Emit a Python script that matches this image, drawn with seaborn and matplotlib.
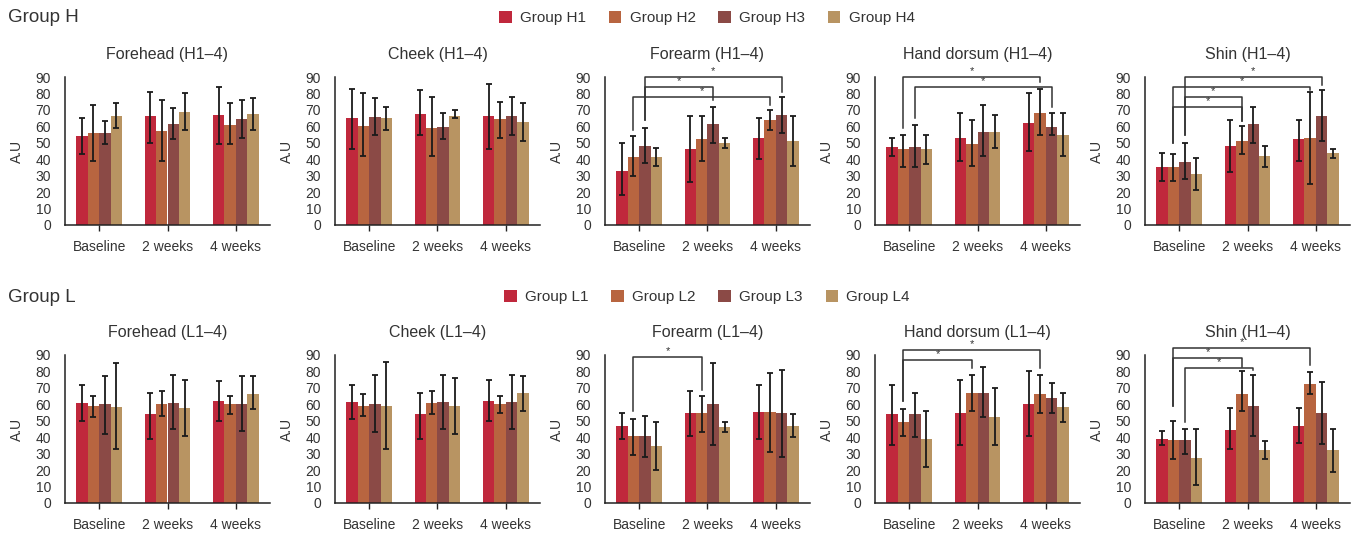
import numpy as np
import pandas as pd
import matplotlib as mpl
mpl.use('Agg')
import matplotlib.pyplot as plt
from matplotlib.patches import Patch
import seaborn as sns

# categories
times = ['Baseline', '2 weeks', '4 weeks']
labels_h = ['Group H1', 'Group H2', 'Group H3', 'Group H4']
labels_l = ['Group L1', 'Group L2', 'Group L3', 'Group L4']
colors = ['#C0283C', '#B86540', '#8B4A46', '#B89462']

# values: one sub-list per group, one value per time point
forehead_h_mean = [[54, 66, 67], [56, 57, 61], [56, 61.5, 64.5], [66, 69, 67.5]]
forehead_h_low = [[43, 50, 49], [39, 39, 49], [49, 52, 53], [59, 58, 58]]
forehead_h_high = [[65, 81, 84], [73, 76, 74], [63, 71, 76], [74, 80, 77]]

cheek_h_mean = [[65, 67.5, 66.5], [60, 59, 64.5], [65.5, 59.5, 66.5], [65, 66.5, 62.5]]
cheek_h_low = [[46, 55, 46], [42, 42, 53], [55, 52, 55], [58, 65, 51]]
cheek_h_high = [[83, 82, 86], [80, 78, 75], [77, 68, 78], [72, 70, 74]]

forearm_h_mean = [[33, 46, 53], [41.5, 52.5, 64], [48, 61.5, 67], [41.5, 50, 51]]
forearm_h_low = [[18, 26, 40], [30, 39, 58], [38, 50, 56], [36, 47, 36]]
forearm_h_high = [[50, 66, 65], [54, 66, 70], [59, 72, 78], [47, 53, 66]]

hand_h_mean = [[47.5, 53, 62], [46, 49.5, 68], [47.5, 56.5, 59.5], [46.5, 56.5, 55]]
hand_h_low = [[42, 39, 45], [35, 36, 55], [35, 42, 55], [37, 47, 42]]
hand_h_high = [[53, 68, 80], [55, 64, 83], [61, 73, 68], [55, 67, 68]]

shin_h_mean = [[35.5, 48, 52], [35, 51, 53], [38.5, 61.5, 66], [31, 42, 43.5]]
shin_h_low = [[27, 32, 39], [27, 43, 25], [28, 50, 51], [21, 35, 41]]
shin_h_high = [[44, 64, 64], [43, 60, 81], [50, 72, 82], [41, 48, 46]]

forehead_l_mean = [[61, 54, 62], [59, 60.5, 60], [60, 61, 60.5], [58.5, 58, 66.5]]
forehead_l_low = [[50, 39, 50], [52, 53, 54], [42, 45, 44], [33, 41, 57]]
forehead_l_high = [[72, 67, 74], [65, 68, 65], [77, 78, 77], [85, 75, 77]]

cheek_l_mean = [[61.5, 54, 62], [59, 61, 60.5], [60.5, 61.5, 61.5], [59, 59, 67]]
cheek_l_low = [[51, 39, 50], [53, 54, 55], [43, 45, 45], [33, 42, 56]]
cheek_l_high = [[72, 67, 75], [66, 68, 65], [78, 78, 78], [86, 76, 77]]

forearm_l_mean = [[47, 55, 55.5], [40.5, 54.5, 55.5], [40.5, 60, 54.5], [34.5, 46, 47]]
forearm_l_low = [[39, 41, 39], [29, 43, 31], [28, 35, 28], [20, 43, 40]]
forearm_l_high = [[55, 68, 72], [51, 65, 79], [53, 85, 81], [49, 49, 54]]

hand_l_mean = [[54, 55, 60.5], [49, 67, 66.5], [54, 67, 64], [39, 52.5, 58.5]]
hand_l_low = [[35, 35, 41], [41, 56, 55], [40, 52, 55], [22, 35, 49]]
hand_l_high = [[72, 75, 80], [57, 78, 78], [67, 83, 73], [56, 70, 67]]

shin_l_mean = [[39, 44.5, 47], [38.5, 66, 72.5], [38.5, 59, 55], [27.5, 32.5, 32.5]]
shin_l_low = [[35, 33, 36.5], [27, 56, 66], [30, 40.5, 36], [11, 27, 19]]
shin_l_high = [[43.5, 57.5, 57.5], [50, 80, 79.5], [45, 78, 73.5], [45, 38, 45]]

# significance brackets: (time a, group a, time b, group b, line level, end a, end b)
forearm_h_sig = [(0, 1, 2, 1, 78, 58, 73), (0, 2, 1, 2, 84, 64, 76), (0, 2, 2, 2, 90, 64, 81)]
hand_h_sig = [(0, 1, 2, 1, 90, 59, 87), (0, 2, 2, 2, 84, 65, 72)]
shin_h_sig = [(0, 1, 1, 1, 72, 50, 63), (0, 2, 1, 1, 78, 55, 63), (0, 1, 2, 1, 84, 50, 82), (0, 2, 2, 2, 90, 55, 85)]
forearm_l_sig = [(0, 1, 1, 1, 89, 56, 69)]
hand_l_sig = [(0, 1, 1, 1, 87, 62, 82), (0, 1, 2, 1, 93, 62, 82)]
shin_l_sig = [(0, 2, 1, 2, 82, 49, 81), (0, 1, 1, 1, 88, 59, 82.5), (0, 1, 2, 1, 94, 59, 84)]

plt.rcParams['font.family'] = ['Liberation Sans', 'DejaVu Sans']
plt.rcParams['text.color'] = '#333333'
plt.rcParams['axes.labelcolor'] = '#333333'
plt.rcParams['xtick.color'] = '#222222'
plt.rcParams['ytick.color'] = '#222222'
plt.rcParams['xtick.labelcolor'] = '#333333'
plt.rcParams['ytick.labelcolor'] = '#333333'

fig = plt.figure(figsize=(13.56, 5.35), dpi=100)
W, H = 1356, 535


def draw_panel(ax, title, labels, mean, low, high, sig):
    rows = []
    for g in range(4):
        for t in range(3):
            rows.append({'time': times[t], 'group': labels[g], 'value': mean[g][t]})
    df = pd.DataFrame(rows)
    sns.barplot(data=df, x='time', y='value', hue='group', order=times, hue_order=labels,
                palette=colors, saturation=1, width=0.67, errorbar=None, legend=False, ax=ax)
    bar_conts = list(ax.containers)
    xs = np.zeros((4, 3))
    for g, cont in enumerate(bar_conts):
        for t, bar in enumerate(cont):
            xc = bar.get_x() + bar.get_width() / 2
            xs[g, t] = xc
            m = mean[g][t]
            ax.errorbar(xc, m, yerr=[[m - low[g][t]], [high[g][t] - m]], fmt='none',
                        ecolor='#1a1a1a', elinewidth=1.3, capsize=2.5, capthick=1.3)
    for ta, ga, tb, gb, lvl, ya, yb in sig:
        xa, xb = xs[ga, ta], xs[gb, tb]
        ax.plot([xa, xa, xb, xb], [ya, lvl, lvl, yb], color='#333333', lw=1.1, clip_on=False)
        ax.text((xa + xb) / 2, lvl + 0.6, '*', ha='center', va='bottom', fontsize=8)
    ax.set_xlim(-0.5, 2.5)
    ax.set_ylim(0, 90)
    ax.set_yticks(range(0, 91, 10))
    ax.set_title(title, fontsize=11.5, pad=13)
    ax.set_xlabel('')
    ax.set_ylabel('A.U', fontsize=10, labelpad=8)
    ax.tick_params(axis='y', length=0, pad=10, labelsize=10)
    ax.tick_params(axis='x', length=4, width=1, pad=7, labelsize=10)
    for s in ['top', 'right']:
        ax.spines[s].set_visible(False)
    for s in ['left', 'bottom']:
        ax.spines[s].set_color('#222222')
        ax.spines[s].set_linewidth(1.1)


lefts = [65, 335, 605, 875, 1145]
top_row = [
    ('Forehead (H1\u20134)', forehead_h_mean, forehead_h_low, forehead_h_high, []),
    ('Cheek (H1\u20134)', cheek_h_mean, cheek_h_low, cheek_h_high, []),
    ('Forearm (H1\u20134)', forearm_h_mean, forearm_h_low, forearm_h_high, forearm_h_sig),
    ('Hand dorsum (H1\u20134)', hand_h_mean, hand_h_low, hand_h_high, hand_h_sig),
    ('Shin (H1\u20134)', shin_h_mean, shin_h_low, shin_h_high, shin_h_sig),
]
bottom_row = [
    ('Forehead (L1\u20134)', forehead_l_mean, forehead_l_low, forehead_l_high, []),
    ('Cheek (L1\u20134)', cheek_l_mean, cheek_l_low, cheek_l_high, []),
    ('Forearm (L1\u20134)', forearm_l_mean, forearm_l_low, forearm_l_high, forearm_l_sig),
    ('Hand dorsum (L1\u20134)', hand_l_mean, hand_l_low, hand_l_high, hand_l_sig),
    ('Shin (H1\u20134)', shin_l_mean, shin_l_low, shin_l_high, shin_l_sig),
]

for i, (title, m, lo, hi, sig) in enumerate(top_row):
    ax = fig.add_axes([lefts[i] / W, (H - 225) / H, 205 / W, 148 / H])
    draw_panel(ax, title, labels_h, m, lo, hi, sig)
for i, (title, m, lo, hi, sig) in enumerate(bottom_row):
    ax = fig.add_axes([lefts[i] / W, (H - 503) / H, 205 / W, 148 / H])
    draw_panel(ax, title, labels_l, m, lo, hi, sig)

fig.text(8 / W, 1 - 18 / H, 'Group H', fontsize=13.5, va='center', ha='left')
fig.text(8 / W, 1 - 297 / H, 'Group L', fontsize=13.5, va='center', ha='left')

for labels, yc in [(labels_h, 18), (labels_l, 297)]:
    handles = [Patch(facecolor=c, edgecolor='none', label=l) for c, l in zip(colors, labels)]
    fig.legend(handles=handles, loc='center', bbox_to_anchor=(707 / W, 1 - yc / H), ncol=4,
               frameon=False, fontsize=11, handlelength=0.8, handleheight=0.8,
               handletextpad=0.55, columnspacing=1.5, borderpad=0)

plt.savefig('out.png', dpi=100)
